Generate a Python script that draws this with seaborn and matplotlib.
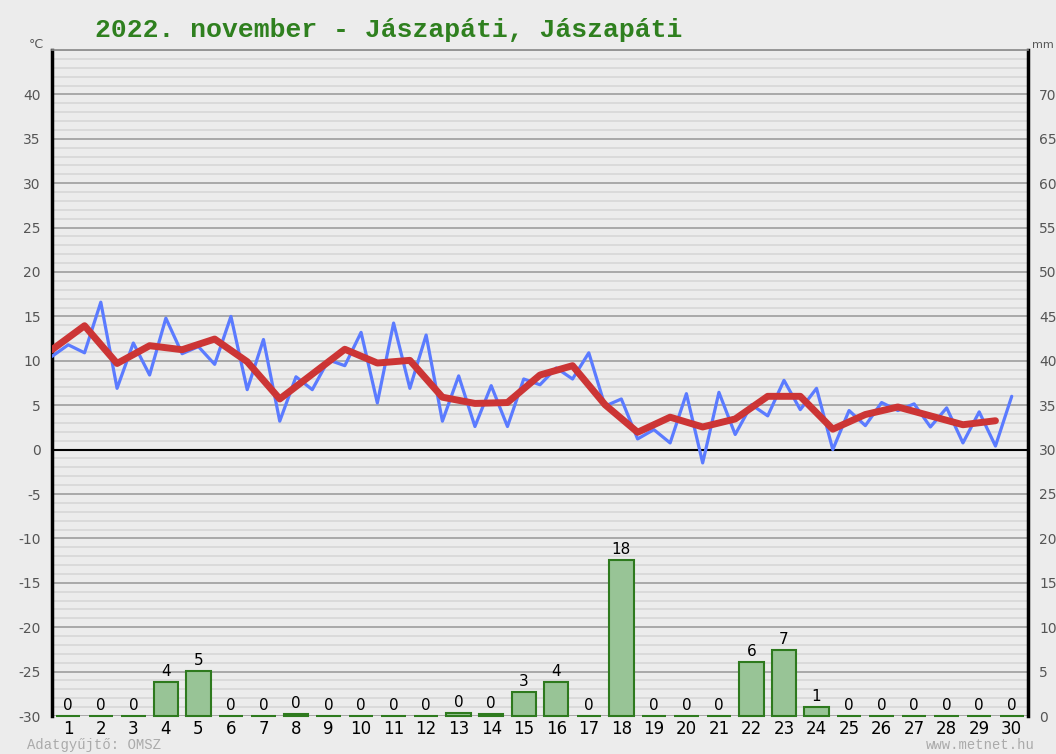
import matplotlib
matplotlib.use("Agg")
import matplotlib.pyplot as plt
import seaborn as sns

# daily precipitation (mm) for november, days 1..30
days = list(range(1, 31))
precip = [0, 0, 0, 3.8, 5.1, 0, 0, 0.2, 0, 0,
          0, 0, 0.3, 0.2, 2.7, 3.8, 0, 17.6, 0, 0,
          0, 6.1, 7.4, 1.0, 0, 0, 0, 0, 0, 0]
precip_labels = [0, 0, 0, 4, 5, 0, 0, 0, 0, 0,
                 0, 0, 0, 0, 3, 4, 0, 18, 0, 0,
                 0, 6, 7, 1, 0, 0, 0, 0, 0, 0]

# half-day temperature readings (°C), at 0.5, 1.0, ... 30.0
temp_times = [i / 2 for i in range(1, 61)]
temp = [10.5, 11.8, 10.9, 16.6, 6.9, 12.0, 8.4, 14.8, 10.8, 11.6,
        9.6, 15.0, 6.75, 12.4, 3.2, 8.2, 6.75, 10.1, 9.45, 13.2,
        5.25, 14.25, 6.9, 12.9, 3.2, 8.3, 2.6, 7.2, 2.6, 7.95,
        7.3, 9.2, 7.95, 10.9, 4.9, 5.7, 1.2, 2.25, 0.75, 6.3,
        -1.5, 6.45, 1.7, 5.05, 3.8, 7.8, 4.5, 6.9, 0.0, 4.4,
        2.7, 5.3, 4.4, 5.15, 2.55, 4.7, 0.75, 4.25, 0.4, 6.0]

# daily mean temperature (°C), drawn at day - 0.5
mean_times = [d - 0.5 for d in days]
mean_temp = [11.25, 13.95, 9.7, 11.7, 11.25, 12.45, 9.9, 5.7, 8.5, 11.3,
             9.75, 10.05, 5.9, 5.2, 5.3, 8.4, 9.45, 5.05, 1.95, 3.65,
             2.55, 3.45, 6.0, 6.0, 2.3, 3.95, 4.8, 3.8, 2.8, 3.25]

left_ticks = list(range(-30, 41, 5))
right_ticks = list(range(0, 71, 5))

sns.set_style("white")
plt.rcParams["font.family"] = ["DejaVu Sans"]
plt.rcParams["axes.unicode_minus"] = False

bg = "#ececec"
fig = plt.figure(figsize=(10.56, 7.54), dpi=100, facecolor=bg)
ax = fig.add_axes([52 / 1056, 1 - 716 / 754, 976 / 1056, 666 / 754])
ax.set_facecolor(bg)

ax.set_ylim(-30, 45)
ax.set_xlim(0.5, 30.5)
ax.set_yticks(left_ticks)
ax.set_yticks(range(-30, 46), minor=True)
ax.grid(which="minor", axis="y", color="#d9d9d9", lw=1.3)
ax.grid(which="major", axis="y", color="#a3a3a3", lw=1.3)
ax.set_axisbelow(True)
ax.axhline(0, color="black", lw=1.5, zorder=1)

sns.lineplot(x=temp_times, y=temp, ax=ax, color="#5b7bff", lw=2.3,
             zorder=3)
sns.lineplot(x=mean_times, y=mean_temp, ax=ax, color="#cc3535", lw=5,
             zorder=4)

ax.tick_params(axis="y", which="both", length=0, labelsize=10,
               labelcolor="#555555", pad=8)
ax.tick_params(axis="x", length=0, labelsize=12, labelcolor="black", pad=3)
ax.set_xlabel("")
ax.set_ylabel("")

for side in ["left", "right"]:
    ax.spines[side].set_color("black")
    ax.spines[side].set_linewidth(2.5)
ax.spines["top"].set_color("#888888")
ax.spines["top"].set_linewidth(1.2)
ax.spines["bottom"].set_visible(False)

ax2 = ax.twinx()
sns.barplot(x=days, y=precip, native_scale=True, ax=ax2, color="#98c496",
            edgecolor="#2e7a1e", linewidth=1.5, width=0.75, saturation=1,
            zorder=3)
for p in ax2.patches:
    p.set_clip_on(False)
ax2.set_ylim(0, 75)
ax2.set_xlim(0.5, 30.5)
ax2.set_yticks(right_ticks)
ax2.tick_params(axis="y", length=0, labelsize=10, labelcolor="#555555", pad=8)
ax2.set_xlabel("")
ax2.set_ylabel("")
for side in ["top", "bottom", "left", "right"]:
    ax2.spines[side].set_visible(False)

for d, h, lab in zip(days, precip, precip_labels):
    ax2.text(d, h + 0.35, str(lab), ha="center", va="bottom", fontsize=11,
             color="black")

ax.set_xticks(days)
ax.set_xticklabels([str(d) for d in days])

fig.text(95 / 1056, 1 - 30 / 754, "2022. november - Jászapáti, Jászapáti",
         family="Liberation Mono", weight="bold", fontsize=19,
         color="#2f801f", va="center", ha="left")
fig.text(36 / 1056, 1 - 45 / 754, "°C", fontsize=9, color="#555555",
         ha="center", va="center")
fig.text(1054 / 1056, 1 - 45 / 754, "mm", fontsize=8, color="#555555",
         ha="right", va="center")
fig.text(27 / 1056, 1 - 745 / 754, "Adatgyűjtő: OMSZ",
         family="Liberation Mono", fontsize=10, color="#aaaaaa",
         ha="left", va="center")
fig.text(1035 / 1056, 1 - 745 / 754, "www.metnet.hu",
         family="Liberation Mono", fontsize=10, color="#aaaaaa",
         ha="right", va="center")

fig.savefig("out.png", dpi=100, facecolor=bg)
